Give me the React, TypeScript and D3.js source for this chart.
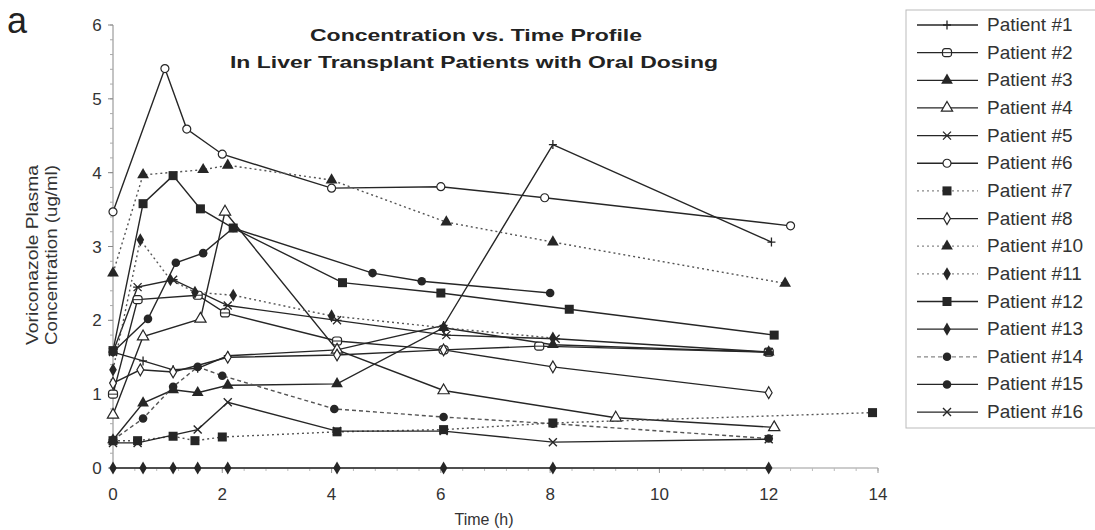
import React from "react";
import * as d3 from "d3";

const patientNames = [
  "Patient #1", "Patient #2", "Patient #3", "Patient #4", "Patient #5",
  "Patient #6", "Patient #7", "Patient #8", "Patient #10", "Patient #11",
  "Patient #12", "Patient #13", "Patient #14", "Patient #15", "Patient #16",
];

const patientTimes: number[][] = [
  [0, 0.55, 1.1, 1.55, 2.1, 4.1, 6.05, 8.05, 12.05],
  [0, 0.45, 1.55, 2.05, 4.1, 6.05, 7.8, 12],
  [0, 0.55, 1.1, 1.55, 2.1, 4.1, 6.05, 8.05, 12],
  [0, 0.55, 1.6, 2.05, 4.1, 6.05, 9.2, 12.1],
  [0, 0.45, 1.1, 2.1, 4.1, 6.1, 8.1, 12],
  [0, 0.95, 1.35, 2.0, 4.0, 6.0, 7.9, 12.4],
  [0, 0.45, 1.1, 1.5, 2.0, 4.1, 6.05, 8.05, 13.9],
  [0, 0.5, 1.1, 2.1, 4.1, 6.05, 8.05, 12],
  [0, 0.55, 1.65, 2.1, 4.0, 6.1, 8.05, 12.3],
  [0, 0.5, 1.05, 1.5, 2.2, 4.0, 6.05, 8.05],
  [0, 0.55, 1.1, 1.6, 2.2, 4.2, 6.0, 8.35, 12.1],
  [0, 0.55, 1.1, 1.55, 2.1, 4.1, 6.05, 8.05, 12],
  [0, 0.55, 1.1, 1.55, 2.0, 4.05, 6.05, 8.05, 12],
  [0, 0.64, 1.15, 1.65, 2.2, 4.75, 5.65, 8.0],
  [0, 0.45, 1.55, 2.1, 4.1, 6.05, 8.05, 12],
];

const patientValues: number[][] = [
  [1.57, 1.45, 1.33, 1.35, 1.52, 1.6, 1.93, 4.38, 3.06],
  [1.0, 2.28, 2.34, 2.1, 1.72, 1.6, 1.65, 1.57],
  [0.38, 0.88, 1.06, 1.02, 1.12, 1.14, 1.9, 1.67, 1.57],
  [0.72, 1.78, 2.02, 3.47, 1.6, 1.05, 0.68, 0.55],
  [1.57, 2.45, 2.55, 2.2, 2.0, 1.8, 1.75, 1.57],
  [3.47, 5.41, 4.59, 4.25, 3.79, 3.81, 3.66, 3.28],
  [0.37, 0.37, 0.43, 0.37, 0.42, 0.49, 0.52, 0.61, 0.75],
  [1.15, 1.33, 1.3, 1.5, 1.53, 1.6, 1.37, 1.02],
  [2.64, 3.97, 4.04, 4.1, 3.9, 3.33, 3.06, 2.5],
  [1.33, 3.09, 2.55, 2.38, 2.34, 2.06, 1.9, 1.76],
  [1.59, 3.58, 3.96, 3.51, 3.25, 2.51, 2.37, 2.15, 1.8],
  [0, 0, 0, 0, 0, 0, 0, 0, 0],
  [0.38, 0.67, 1.1, 1.37, 1.25, 0.8, 0.69, 0.6, 0.4],
  [1.57, 2.02, 2.78, 2.91, 3.25, 2.64, 2.53, 2.37],
  [0.34, 0.34, 0.52, 0.89, 0.5, 0.5, 0.35, 0.39],
];

const xTicks = [0, 2, 4, 6, 8, 10, 12, 14];
const yTicks = [0, 1, 2, 3, 4, 5, 6];

// style per patient (marker shape, line dash)
const markerKinds = [
  "plus", "circleBar", "triFilled", "triOpen", "asterisk",
  "circleOpen", "squareFilled", "diamondOpen", "triFilled", "diamondFilled",
  "squareFilled", "diamondFilled", "circleFilled", "circleFilled", "cross",
];
const dashKinds = [
  "solid", "solid", "solid", "solid", "solid",
  "solid", "dotted", "solid", "dotted", "dotted",
  "solid", "solid", "dashed", "solid", "solid",
];

const INK = "#262626";
const FONT = "'Liberation Sans', Arial, sans-serif";

function dashArray(kind: string) {
  if (kind === "dotted") return "2,3";
  if (kind === "dashed") return "4,3";
  return undefined;
}

function Marker({ kind, x, y }: { kind: string; x: number; y: number }) {
  const t = `translate(${x},${y})`;
  switch (kind) {
    case "plus":
      return <path transform={t} d="M-4,0H4M0,-4.5V4.5" stroke={INK} strokeWidth={1.3} />;
    case "cross":
      return <path transform={t} d="M-4,-4L4,4M-4,4L4,-4" stroke={INK} strokeWidth={1.4} />;
    case "asterisk":
      return <path transform={t} d="M-4,-4L4,4M-4,4L4,-4M-4.5,0H4.5" stroke={INK} strokeWidth={1.3} />;
    case "circleBar":
      return (
        <g transform={t}>
          <rect x={-4.5} y={-4} width={9} height={8} rx={2.5} fill="#fff" stroke={INK} strokeWidth={1.2} />
          <path d="M-4.5,0H4.5" stroke={INK} strokeWidth={1} />
        </g>
      );
    case "squareFilled":
      return <rect transform={t} x={-4.5} y={-4.5} width={9} height={9} fill={INK} />;
    case "circleOpen":
      return <circle transform={t} r={4} fill="#fff" stroke={INK} strokeWidth={1.2} />;
    case "circleFilled":
      return <circle transform={t} r={4.3} fill={INK} />;
    case "triFilled":
      return <path transform={t} d={d3.symbol(d3.symbolTriangle, 60)() as string} fill={INK} />;
    case "triOpen":
      return <path transform={t} d={d3.symbol(d3.symbolTriangle, 55)() as string} fill="#fff" stroke={INK} strokeWidth={1.2} />;
    case "diamondOpen":
      return <path transform={t} d={d3.symbol(d3.symbolDiamond, 40)() as string} fill="#fff" stroke={INK} strokeWidth={1.2} />;
    case "diamondFilled":
      return <path transform={t} d={d3.symbol(d3.symbolDiamond, 50)() as string} fill={INK} />;
    default:
      return null;
  }
}

export default function App() {
  const width = 1095;
  const height = 530;
  const x = d3.scaleLinear().domain([0, 14]).range([113, 878]);
  const y = d3.scaleLinear().domain([0, 6]).range([468, 25]);
  const line = d3
    .line<[number, number]>()
    .x((d) => x(d[0]))
    .y((d) => y(d[1]));

  const yMinor = d3.range(0, 6.001, 0.2);
  const xMinor = d3.range(0, 14.001, 0.4);

  const legX = 906;
  const legY0 = 25;
  const legStep = 27.65;

  return (
    <svg
      width={width}
      height={height}
      style={{ position: "absolute", left: 0, top: 0, background: "#fff" }}
      fontFamily={FONT}
    >
      <rect width={width} height={height} fill="#fff" />
      {/* panel letter */}
      <text x={7} y={33} fontSize={36} fill="#222">a</text>

      {/* title */}
      <text x={310} y={41} fontSize={17} fontWeight="bold" fill="#222" textLength={332} lengthAdjust="spacingAndGlyphs">
        Concentration vs. Time Profile
      </text>
      <text x={230} y={68} fontSize={17} fontWeight="bold" fill="#222" textLength={488} lengthAdjust="spacingAndGlyphs">
        In Liver Transplant Patients with Oral Dosing
      </text>

      {/* y axis */}
      <line x1={x(0)} x2={x(0)} y1={y(6)} y2={y(0)} stroke="#888" strokeWidth={1} />
      {yMinor.map((v, i) => (
        <line key={"ym" + i} x1={x(0) - 3} x2={x(0)} y1={y(v)} y2={y(v)} stroke="#aaa" strokeWidth={1} />
      ))}
      {yTicks.map((v) => (
        <g key={"yt" + v}>
          <line x1={x(0) - 5} x2={x(0)} y1={y(v)} y2={y(v)} stroke="#888" />
          <text x={97} y={y(v) + 6} fontSize={17} textAnchor="middle" fill="#333">{v}</text>
        </g>
      ))}
      {/* x axis */}
      <line x1={x(0)} x2={x(14)} y1={y(0)} y2={y(0)} stroke="#999" strokeWidth={1} />
      {xMinor.map((v, i) => (
        <line key={"xm" + i} x1={x(v)} x2={x(v)} y1={y(0)} y2={y(0) + 3} stroke="#bbb" strokeWidth={1} />
      ))}
      {xTicks.map((v) => (
        <g key={"xt" + v}>
          <line x1={x(v)} x2={x(v)} y1={y(0)} y2={y(0) + 5} stroke="#999" />
          <text x={x(v)} y={500} fontSize={17} textAnchor="middle" fill="#333">{v}</text>
        </g>
      ))}
      <text x={484} y={525} fontSize={16} textAnchor="middle" fill="#333">Time (h)</text>

      {/* y label */}
      <g transform="translate(38,255) rotate(-90)">
        <text x={0} y={0} fontSize={17} textAnchor="middle" fill="#333" textLength={180} lengthAdjust="spacingAndGlyphs">Voriconazole Plasma</text>
        <text x={0} y={19} fontSize={17} textAnchor="middle" fill="#333" textLength={180} lengthAdjust="spacingAndGlyphs">Concentration (ug/ml)</text>
      </g>

      {/* series lines */}
      {patientNames.map((name, i) => {
        const pts = patientTimes[i].map((t, j) => [t, patientValues[i][j]] as [number, number]);
        return (
          <path
            key={"l" + name}
            d={line(pts) as string}
            fill="none"
            stroke={dashKinds[i] === "solid" ? INK : "#555"}
            strokeWidth={1.4}
            strokeDasharray={dashArray(dashKinds[i])}
          />
        );
      })}
      {/* markers */}
      {patientNames.map((name, i) => (
        <g key={"m" + name}>
          {patientTimes[i].map((t, j) => (
            <Marker key={j} kind={markerKinds[i]} x={x(t)} y={y(patientValues[i][j])} />
          ))}
        </g>
      ))}

      {/* legend */}
      <rect x={legX} y={10} width={200} height={418} fill="#fff" stroke="#bbb" strokeWidth={1} />
      {patientNames.map((name, i) => {
        const ly = legY0 + i * legStep;
        return (
          <g key={"lg" + name}>
            <line
              x1={917}
              x2={978}
              y1={ly}
              y2={ly}
              stroke={dashKinds[i] === "solid" ? INK : "#888"}
              strokeWidth={1.3}
              strokeDasharray={dashArray(dashKinds[i])}
            />
            <Marker kind={markerKinds[i]} x={947} y={ly} />
            <text x={987} y={ly + 6} fontSize={19} fill="#333">{name}</text>
          </g>
        );
      })}
    </svg>
  );
}
